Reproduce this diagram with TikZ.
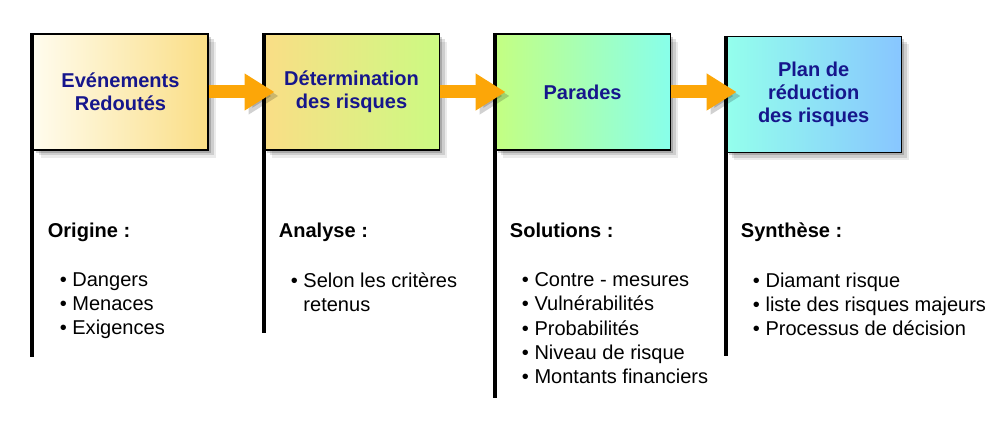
\documentclass[tikz,border=0pt]{standalone}
\usepackage{fontspec}
\setmainfont{Liberation Sans}
\usepackage{xcolor}
\usetikzlibrary{arrows.meta,positioning,shadows}

\definecolor{titleBlue}{RGB}{22,22,140}
\definecolor{flowOrange}{RGB}{252,166,8}
\definecolor{creamA}{RGB}{255,252,238}
\definecolor{yellowA}{RGB}{250,222,134}
\definecolor{greenA}{RGB}{196,255,130}
\definecolor{cyanA}{RGB}{136,255,234}
\definecolor{blueA}{RGB}{136,198,255}

\begin{document}
\begin{tikzpicture}[
  node distance=1.1cm,
  every node/.style={font=\fontsize{11.4}{13.7}\selectfont},
  softShadow/.style={
    drop shadow={shadow xshift=1.6mm, shadow yshift=-1.6mm, opacity=0.08, fill=black},
    drop shadow={shadow xshift=1.1mm, shadow yshift=-1.1mm, opacity=0.12, fill=black},
    drop shadow={shadow xshift=0.6mm, shadow yshift=-0.6mm, opacity=0.18, fill=black}},
  stage/.style={draw=black, line width=0.6pt, align=center, minimum width=3.5cm, minimum height=2.32cm,
    inner sep=2pt, text=titleBlue, font=\fontsize{11.4}{13.1}\selectfont\bfseries, softShadow},
  pole/.style={line width=2.3pt, line cap=butt},
  flow/.style={draw=flowOrange, line width=7.4pt, -{Triangle[length=0.6cm, width=0.7cm]}, shorten >=-0.22cm,
    preaction={draw=black, opacity=0.18, transform canvas={xshift=0.8mm, yshift=-0.8mm}}},
  heading/.style={anchor=base west, inner sep=0pt, font=\fontsize{11.4}{13.7}\selectfont\bfseries},
  items/.style={anchor=north west, align=left, inner sep=0pt}
]
\useasboundingbox (0,0) rectangle (20,-8.9);

% steps
\node[stage, left color=creamA, right color=yellowA] (evt) at (2.41,-1.84) {Evénements\\Redoutés};
\node[stage, right=of evt, left color=yellowA, right color=greenA!85!yellowA] (det) {Détermination\\des risques};
\node[stage, right=of det, left color=greenA, right color=cyanA] (par) {Parades};
\node[stage, right=of par, yshift=-0.05cm, left color=cyanA!90!white, right color=blueA] (plan) {Plan de\\réduction\\des risques};

% poles
\draw[pole] (evt.north west) -- ++(0,-6.48);
\draw[pole] (det.north west) -- ++(0,-6.0);
\draw[pole] (par.north west) -- ++(0,-7.3);
\draw[pole] (plan.north west) -- ++(0,-6.4);

% arrows
\draw[flow] (evt.east) -- (det.west);
\draw[flow] (det.east) -- (par.west);
\draw[flow] (par.east) -- (par.east -| plan.west);

% texts below
\node[heading] (orig) at ([xshift=0.3cm, yshift=-1.74cm]evt.south west) {Origine :};
\node[items] (origList) at ([xshift=0.54cm, yshift=-2.44cm]evt.south west)
  {\textbullet\ Dangers\\ \textbullet\ Menaces\\ \textbullet\ Exigences};

\node[heading] (anal) at ([xshift=0.3cm, yshift=-1.74cm]det.south west) {Analyse :};
\node[items] (analList) at ([xshift=0.54cm, yshift=-2.44cm]det.south west)
  {\textbullet\ Selon les critères\\ \phantom{\textbullet\ }retenus};

\node[heading] (sol) at ([xshift=0.3cm, yshift=-1.74cm]par.south west) {Solutions :};
\node[items] (solList) at ([xshift=0.54cm, yshift=-2.44cm]par.south west)
  {\textbullet\ Contre - mesures\\ \textbullet\ Vulnérabilités\\ \textbullet\ Probabilités\\
   \textbullet\ Niveau de risque\\ \textbullet\ Montants financiers};

\node[heading] (synth) at ([xshift=0.3cm, yshift=-1.69cm]plan.south west) {Synthèse :};
\node[items] (synthList) at ([xshift=0.54cm, yshift=-2.39cm]plan.south west)
  {\textbullet\ Diamant risque\\ \textbullet\ liste des risques majeurs\\ \textbullet\ Processus de décision};
\end{tikzpicture}
\end{document}
